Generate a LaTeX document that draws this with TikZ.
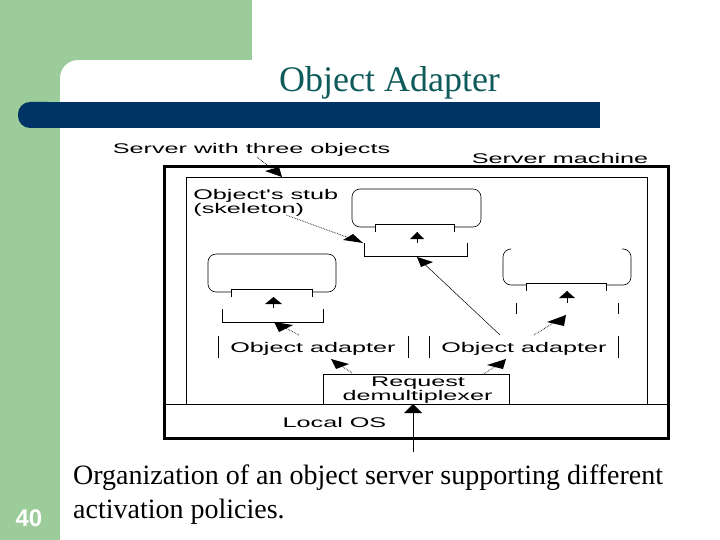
\documentclass[tikz,border=0pt]{standalone}
\usepackage{fontspec}
\setmainfont{Liberation Serif}
\newfontfamily\labelfont{Liberation Sans}

\definecolor{shadegreen}{RGB}{157,204,155}
\definecolor{shadeblue}{RGB}{0,51,102}
\definecolor{shadetitle}{RGB}{15,90,90}

\tikzset{
  thinline/.style={draw=black, line width=0.8pt},
  boxline/.style={draw=black, line width=3pt},
  objline/.style={draw=black, line width=0.6pt, rounded corners=8pt},
  ptr/.style={draw=black, line width=0.5pt},
  dotptr/.style={draw=black, line width=0.7pt, densely dotted},
  uptr/.style={draw=black, line width=0.8pt},
  tipfill/.style={fill=black},
  figtext/.style={font=\labelfont\fontsize{14}{14}\selectfont, xscale=1.8, transform shape, inner sep=0pt, anchor=base},
  slidetext/.style={font=\fontsize{28}{34}\selectfont, inner sep=0pt, align=left}
}

\begin{document}
\begin{tikzpicture}[x=1pt, y=-1pt]
	\useasboundingbox (0,0) rectangle (720,540);

	%% Draw slide background
	\fill[shadegreen] (0,0) rectangle (252,60);
	\fill[shadegreen] (0,0) rectangle (60,540);
	\fill[shadegreen] (60,60) -- (78,60) .. controls (68,60) and (60,68) .. (60,78) -- cycle;
	\fill[shadeblue, rounded corners=12pt] (18,102) rectangle (60,128);
	\fill[shadeblue] (40,102) rectangle (600,128);

	%% Draw slide text
	\node[font=\fontsize{36}{36}\selectfont, text=shadetitle, inner sep=0pt, anchor=base] (title) at (389.5,92) {Object Adapter};
	\node[slidetext, anchor=north west] (caption) at (73,465) {Organization of an object server supporting different\\activation policies.};
	\node[font=\labelfont\bfseries\fontsize{24}{24}\selectfont, text=white, inner sep=0pt, anchor=base] (pagenum) at (29,526) {40};

	%% Draw machine boxes
	\draw[boxline] (164,167) rectangle (668,438);
	\draw[thinline] (186.5,404) |- (647,177) -- (647,404);
	\draw[thinline] (164,404) -- (668,404);
	\draw[thinline] (323,404) |- (509,374) -- (509,404);

	%% Draw top object
	\draw[objline] (375,227) -| (352,189) -| (481,227) -- (454,227);
	\draw[thinline] (375,232) |- (454,224) -- (454,232);
	\draw[thinline] (364,243) |- (467,256) -- (467,243);

	%% Draw left object
	\draw[objline] (231,292) -| (208,254) -| (336,292) -- (312,292);
	\draw[thinline] (231,297) |- (312,289) -- (312,297);
	\draw[thinline] (222,309) |- (323,322) -- (323,309);

	%% Draw right object
	\draw[objline] (510,249) -| (503,285) -- (526,285);
	\draw[objline] (622,249) -| (631,285) -- (606,285);
	\draw[thinline] (526,291) |- (606,283) -- (606,291);
	\draw[thinline] (516,303) -- (516,314);
	\draw[thinline] (618,303) -- (618,314);

	%% Draw adapter bars
	\draw[thinline] (218,336) -- (218,358);
	\draw[thinline] (408,336) -- (408,358);
	\draw[thinline] (429,336) -- (429,358);
	\draw[thinline] (618,336) -- (618,358);

	%% Draw labels
	\node[figtext] (servertext) at (251.5,154) {Server with three objects};
	\node[figtext] (machinetext) at (560,164) {Server machine};
	\node[figtext, anchor=base west] (stubtext) at (193,199.5) {Object's stub};
	\node[figtext, anchor=base west] (skeltext) at (193,214) {(skeleton)};
	\node[figtext] (adapterl) at (313,352) {Object adapter};
	\node[figtext] (adapterr) at (524,352) {Object adapter};
	\node[figtext] (reqtext) at (418,386) {Request};
	\node[figtext] (demuxtext) at (417.5,400) {demultiplexer};
	\node[figtext] (ostext) at (334.5,427) {Local OS};

	%% Name arrow ends
	\coordinate (innertip) at (282,177);
	\coordinate (skeltip) at (363,243);
	\coordinate (toptip) at (417,257);
	\coordinate (lefttip) at (274,322);
	\coordinate (righttip) at (566,315);
	\coordinate (adaptltip) at (331,359);
	\coordinate (adaptrtip) at (506,359);
	\coordinate (reqtip) at (413,404);
	\coordinate (upatip) at (417,232);
	\coordinate (upbtip) at (273.5,297);
	\coordinate (upctip) at (567,291);

	%% Draw arrows
	\draw[dotptr] (257,157) -- (innertip);
	\draw[dotptr] (286,215) -- (skeltip);
	\draw[ptr] (500,335) -- (toptip);
	\draw[dotptr] (299,335) -- (lefttip);
	\draw[dotptr] (534,335) -- (righttip);
	\draw[dotptr] (352,373) -- (adaptltip);
	\draw[dotptr] (484,374) -- (adaptrtip);
	\draw[uptr] (413,452) -- (reqtip);
	\draw[uptr] (417,243) -- (upatip);
	\draw[uptr] (273.5,308) -- (upbtip);
	\draw[uptr] (567,303) -- (upctip);

	%% Draw arrow heads
	\fill[tipfill] (innertip) -- (265,171) -- (279,167) -- cycle;
	\fill[tipfill] (skeltip) -- (343,240) -- (353,234) -- cycle;
	\fill[tipfill] (toptip) -- (433,262) -- (421,267) -- cycle;
	\fill[tipfill] (lefttip) -- (293,325) -- (279,332) -- cycle;
	\fill[tipfill] (righttip) -- (547,322) -- (564,326) -- cycle;
	\fill[tipfill] (adaptltip) -- (349,364) -- (336,369) -- cycle;
	\fill[tipfill] (adaptrtip) -- (487,365) -- (503,369) -- cycle;
	\fill[tipfill] (reqtip) -- (404,413) -- (422,413) -- cycle;
	\fill[tipfill] (upatip) -- (410,239) -- (424,239) -- cycle;
	\fill[tipfill] (upbtip) -- (265,304) -- (282,304) -- cycle;
	\fill[tipfill] (upctip) -- (559,298) -- (575,298) -- cycle;
\end{tikzpicture}
\end{document}
